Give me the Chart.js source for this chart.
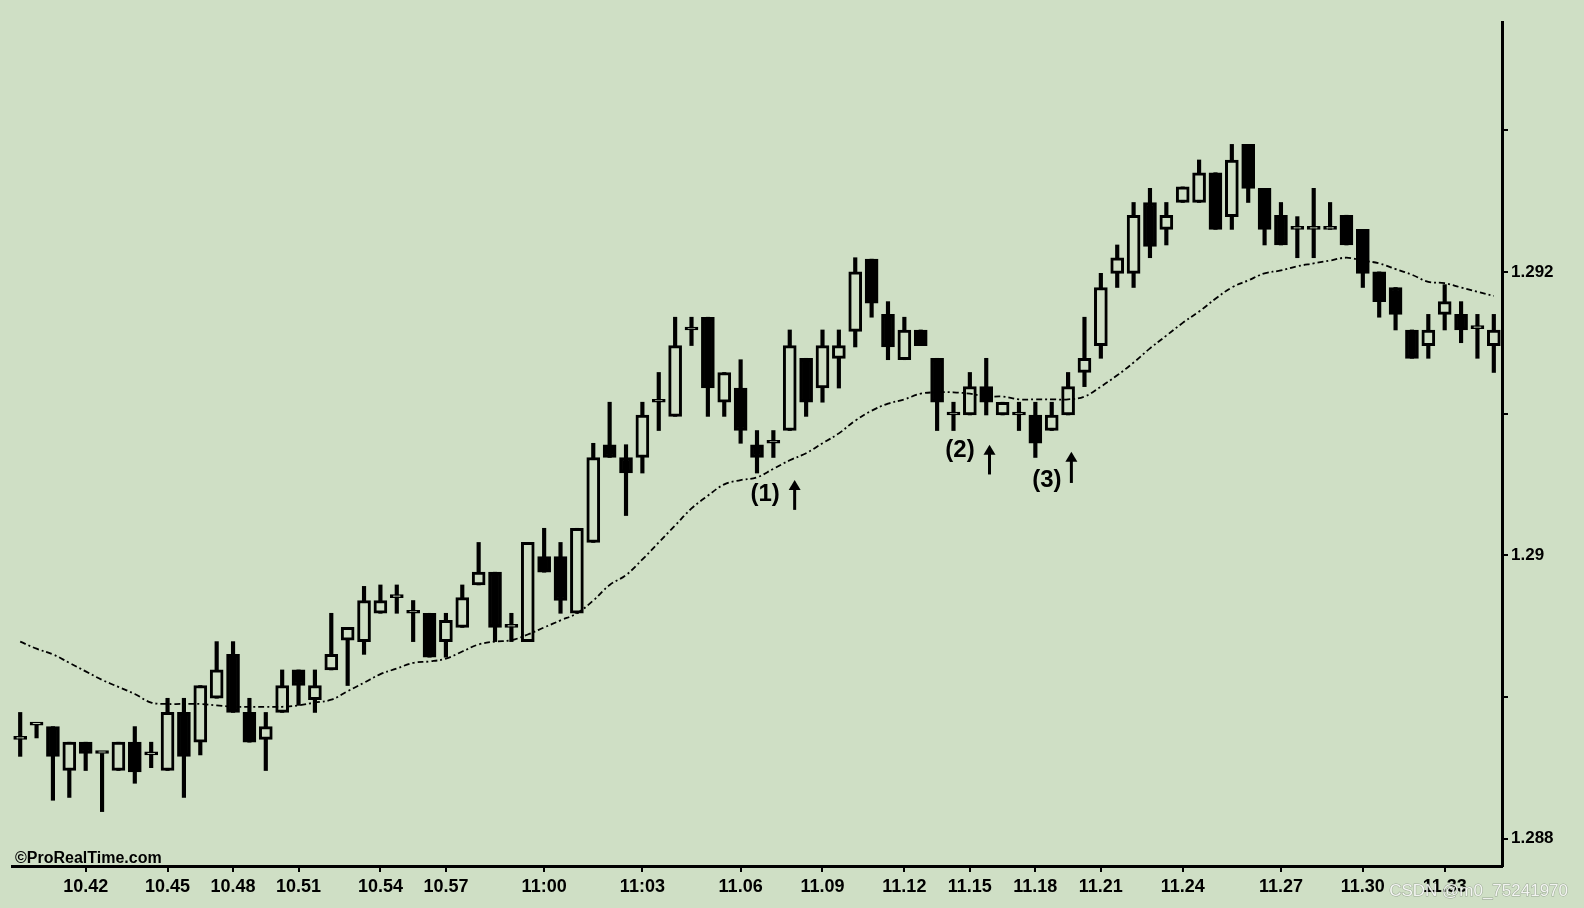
<!DOCTYPE html>
<html>
<head>
<meta charset="utf-8">
<title>Velas 10.42 - 11.33</title>
<script src="https://cdn.jsdelivr.net/npm/chart.js@4.4.1/dist/chart.umd.min.js"></script>
<style>
	html, body { margin: 0; padding: 0; background: #cfdfc5; }
	#contenedor { width: 1584px; height: 908px; position: relative; }
</style>
</head>
<body>
<div id="contenedor"><canvas id="grafico"></canvas></div>
<script>
/* Datos de las velas */
const aperturas = [
	1.28870, 1.28880, 1.28879, 1.28848, 1.28868, 1.28860, 1.28848, 1.28868, 1.28859, 1.28848,
	1.28889, 1.28868, 1.28899, 1.28930, 1.28889, 1.28870, 1.28889, 1.28919, 1.28898, 1.28919,
	1.28940, 1.28939, 1.28959, 1.28970, 1.28959, 1.28959, 1.28939, 1.28949, 1.28979, 1.28988,
	1.28949, 1.28939, 1.28999, 1.28999, 1.28959, 1.29009, 1.29078, 1.29069, 1.29069, 1.29108,
	1.29098, 1.29159, 1.29168, 1.29108, 1.29118, 1.29078, 1.29079, 1.29088, 1.29139, 1.29118,
	1.29139, 1.29158, 1.29209, 1.29170, 1.29138, 1.29159, 1.29139, 1.29099, 1.29099, 1.29119,
	1.29099, 1.29099, 1.29099, 1.29088, 1.29099, 1.29129, 1.29148, 1.29199, 1.29199, 1.29249,
	1.29230, 1.29249, 1.29249, 1.29270, 1.29239, 1.29290, 1.29259, 1.29240, 1.29230, 1.29230,
	1.29230, 1.29240, 1.29230, 1.29200, 1.29189, 1.29159, 1.29148, 1.29170, 1.29170, 1.29160,
	1.29148
];
const maximos = [
	1.28889, 1.28880, 1.28879, 1.28868, 1.28868, 1.28860, 1.28868, 1.28879, 1.28868, 1.28899,
	1.28899, 1.28908, 1.28939, 1.28939, 1.28899, 1.28889, 1.28919, 1.28919, 1.28919, 1.28959,
	1.28949, 1.28978, 1.28979, 1.28979, 1.28968, 1.28959, 1.28959, 1.28979, 1.29009, 1.28988,
	1.28959, 1.29009, 1.29019, 1.29009, 1.29019, 1.29079, 1.29108, 1.29078, 1.29108, 1.29129,
	1.29168, 1.29168, 1.29168, 1.29129, 1.29138, 1.29088, 1.29088, 1.29159, 1.29139, 1.29159,
	1.29159, 1.29210, 1.29209, 1.29179, 1.29168, 1.29159, 1.29139, 1.29108, 1.29129, 1.29139,
	1.29108, 1.29108, 1.29108, 1.29108, 1.29129, 1.29168, 1.29199, 1.29219, 1.29249, 1.29259,
	1.29249, 1.29260, 1.29279, 1.29270, 1.29290, 1.29290, 1.29259, 1.29249, 1.29239, 1.29259,
	1.29249, 1.29240, 1.29230, 1.29200, 1.29189, 1.29159, 1.29170, 1.29191, 1.29179, 1.29170,
	1.29170
];
const minimos = [
	1.28858, 1.28871, 1.28827, 1.28829, 1.28848, 1.28819, 1.28848, 1.28839, 1.28850, 1.28848,
	1.28829, 1.28859, 1.28899, 1.28889, 1.28868, 1.28848, 1.28889, 1.28894, 1.28889, 1.28919,
	1.28908, 1.28930, 1.28959, 1.28959, 1.28939, 1.28928, 1.28928, 1.28949, 1.28979, 1.28939,
	1.28939, 1.28939, 1.28988, 1.28959, 1.28959, 1.29009, 1.29069, 1.29028, 1.29058, 1.29088,
	1.29098, 1.29148, 1.29098, 1.29098, 1.29079, 1.29058, 1.29069, 1.29088, 1.29098, 1.29108,
	1.29118, 1.29147, 1.29168, 1.29138, 1.29138, 1.29148, 1.29088, 1.29088, 1.29099, 1.29099,
	1.29099, 1.29088, 1.29069, 1.29088, 1.29099, 1.29119, 1.29139, 1.29189, 1.29189, 1.29210,
	1.29219, 1.29249, 1.29249, 1.29230, 1.29230, 1.29249, 1.29219, 1.29219, 1.29210, 1.29210,
	1.29230, 1.29219, 1.29189, 1.29168, 1.29159, 1.29139, 1.29139, 1.29159, 1.29150, 1.29139,
	1.29129
];
const cierres = [
	1.28870, 1.28880, 1.28858, 1.28868, 1.28860, 1.28860, 1.28868, 1.28847, 1.28859, 1.28889,
	1.28858, 1.28908, 1.28919, 1.28889, 1.28868, 1.28879, 1.28908, 1.28908, 1.28908, 1.28930,
	1.28949, 1.28968, 1.28968, 1.28970, 1.28959, 1.28928, 1.28954, 1.28970, 1.28988, 1.28949,
	1.28949, 1.29009, 1.28988, 1.28968, 1.29019, 1.29069, 1.29069, 1.29058, 1.29099, 1.29108,
	1.29148, 1.29159, 1.29118, 1.29129, 1.29088, 1.29069, 1.29079, 1.29148, 1.29108, 1.29148,
	1.29148, 1.29200, 1.29178, 1.29147, 1.29159, 1.29148, 1.29108, 1.29099, 1.29119, 1.29108,
	1.29108, 1.29099, 1.29079, 1.29099, 1.29119, 1.29139, 1.29189, 1.29210, 1.29240, 1.29218,
	1.29240, 1.29260, 1.29270, 1.29230, 1.29279, 1.29259, 1.29230, 1.29219, 1.29230, 1.29230,
	1.29230, 1.29219, 1.29199, 1.29179, 1.29170, 1.29139, 1.29159, 1.29179, 1.29159, 1.29160,
	1.29159
];
// media movil (linea punteada)
const media = [
	1.28939, 1.28934, 1.28930, 1.28924, 1.28918, 1.28912, 1.28907, 1.28902, 1.28896, 1.28895,
	1.28895, 1.28895, 1.28894, 1.28893, 1.28893, 1.28893, 1.28893, 1.28894, 1.28896, 1.28898,
	1.28904, 1.28910, 1.28916, 1.28920, 1.28924, 1.28925, 1.28927, 1.28932, 1.28937, 1.28939,
	1.28940, 1.28944, 1.28949, 1.28954, 1.28959, 1.28968, 1.28979, 1.28986, 1.28997, 1.29009,
	1.29021, 1.29033, 1.29042, 1.29050, 1.29053, 1.29055, 1.29061, 1.29067, 1.29072, 1.29079,
	1.29086, 1.29095, 1.29102, 1.29107, 1.29110, 1.29114, 1.29115, 1.29115, 1.29114, 1.29112,
	1.29112, 1.29110, 1.29110, 1.29110, 1.29110, 1.29112, 1.29119, 1.29127, 1.29136, 1.29146,
	1.29155, 1.29164, 1.29172, 1.29181, 1.29189, 1.29194, 1.29199, 1.29201, 1.29204, 1.29206,
	1.29208, 1.29210, 1.29208, 1.29206, 1.29202, 1.29198, 1.29193, 1.29192, 1.29189, 1.29186,
	1.29183
];

/* Eje de tiempo: vela donde cae cada hora */
const marcasVela = [4, 9, 13, 17, 22, 26, 32, 38, 44, 49, 54, 58, 62, 66, 71, 77, 82, 87];
const marcasHora = ["10.42", "10.45", "10.48", "10.51", "10.54", "10.57", "11:00", "11:03", "11.06",
	"11.09", "11.12", "11.15", "11.18", "11.21", "11.24", "11.27", "11.30", "11.33"];

/* Eje de precios */
const marcasPrecio = [1.288, 1.289, 1.29, 1.291, 1.292, 1.293];
const textoPrecio = ["1.288", "", "1.29", "", "1.292", ""];

/* Notas (1) (2) (3) con su flecha */
const notasTexto = ["(1)", "(2)", "(3)"];
const notasVela = [45.5, 57.4, 62.7];
const notasPrecio = [1.29043, 1.29074, 1.29053];
const flechasVela = [47.3, 59.2, 64.2];
const flechasArriba = [1.29053, 1.29078, 1.29073];
const flechasAbajo = [1.29032, 1.29057, 1.29051];

const fondo = "#cfdfc5";
const fuente = "'Liberation Sans', Arial, sans-serif";

const etiquetas = aperturas.map((a, i) => {
	const k = marcasVela.indexOf(i);
	return k >= 0 ? marcasHora[k] : "";
});
const cuerpos = aperturas.map((a, i) => [a, cierres[i]]);
const mechas = minimos.map((m, i) => [m, maximos[i]]);

const extras = {
	id: "extras",
	beforeDraw(chart) {
		const c = chart.ctx;
		c.save();
		c.fillStyle = fondo;
		c.fillRect(0, 0, chart.width, chart.height);
		c.restore();
	},
	afterDraw(chart) {
		const c = chart.ctx;
		const x = chart.scales.x;
		const y = chart.scales.y;
		const area = chart.chartArea;
		c.save();
		c.fillStyle = "#000";
		c.strokeStyle = "#000";

		// notas
		c.font = "bold 24px " + fuente;
		c.textAlign = "center";
		c.textBaseline = "middle";
		notasTexto.forEach((t, i) => {
			c.fillText(t, x.getPixelForValue(notasVela[i]), y.getPixelForValue(notasPrecio[i]));
		});

		// flechas
		flechasVela.forEach((v, i) => {
			const px = x.getPixelForValue(v);
			const arriba = y.getPixelForValue(flechasArriba[i]);
			const abajo = y.getPixelForValue(flechasAbajo[i]);
			c.lineWidth = 3;
			c.beginPath();
			c.moveTo(px, abajo);
			c.lineTo(px, arriba + 6);
			c.stroke();
			c.beginPath();
			c.moveTo(px, arriba);
			c.lineTo(px - 6, arriba + 10);
			c.lineTo(px + 6, arriba + 10);
			c.closePath();
			c.fill();
		});

		// marca ProRealTime
		c.font = "bold 16px " + fuente;
		c.textAlign = "left";
		c.textBaseline = "alphabetic";
		c.fillText("\u00a9ProRealTime.com", area.left + 3, area.bottom - 3);

		// marca de agua
		c.font = "17px " + fuente;
		c.textAlign = "right";
		c.lineWidth = 1;
		c.strokeStyle = "rgba(120,130,115,0.6)";
		c.strokeText("CSDN @m0_75241970", 1568, 896);
		c.fillStyle = "rgba(255,255,255,0.85)";
		c.fillText("CSDN @m0_75241970", 1568, 896);
		c.restore();
	}
};

const ctx = document.getElementById("grafico").getContext("2d");
new Chart(ctx, {
	type: "bar",
	data: {
		labels: etiquetas,
		datasets: [
			{
				type: "line",
				label: "Media",
				data: media,
				borderColor: "#000",
				borderWidth: 1.8,
				borderDash: [6, 3, 2, 3],
				pointRadius: 0,
				tension: 0.4,
				fill: false,
				order: 0,
			},
			{
				label: "Cuerpos",
				data: cuerpos,
				grouped: false,
				barThickness: 13,
				minBarLength: 3,
				backgroundColor: cierres.map((c, i) => (c < aperturas[i] ? "#000" : fondo)),
				borderColor: "#000",
				borderWidth: 3,
				borderSkipped: false,
				order: 1,
			},
			{
				label: "Mechas",
				data: mechas,
				grouped: false,
				barThickness: 3.5,
				backgroundColor: "#000",
				borderWidth: 0,
				order: 2,
			},
		],
	},
	options: {
		responsive: true,
		maintainAspectRatio: false,
		animation: false,
		layout: { padding: { left: 12, top: 22, right: 0, bottom: 0 } },
		plugins: {
			legend: { display: false },
			tooltip: { enabled: false },
		},
		scales: {
			x: {
				offset: true,
				afterFit: (eje) => { eje.height = 42; },
				border: { display: true, color: "#000", width: 3 },
				grid: {
					offset: false,
					drawOnChartArea: false,
					drawTicks: true,
					tickLength: 6,
					lineWidth: 2,
					color: (c) => (marcasVela.includes(c.index) ? "#000" : "rgba(0,0,0,0)"),
				},
				ticks: {
					autoSkip: false,
					maxRotation: 0,
					minRotation: 0,
					padding: 4,
					color: "#000",
					font: { family: fuente, size: 18, weight: "bold" },
				},
			},
			y: {
				position: "right",
				min: 1.287806,
				max: 1.293764,
				afterFit: (eje) => { eje.width = 82; },
				afterBuildTicks: (eje) => { eje.ticks = marcasPrecio.map((v) => ({ value: v })); },
				border: { display: true, color: "#000", width: 3 },
				grid: {
					drawOnChartArea: false,
					drawTicks: true,
					tickLength: 6,
					lineWidth: 2,
					color: "#000",
				},
				ticks: {
					padding: 3,
					color: "#000",
					font: { family: fuente, size: 17, weight: "bold" },
					callback: (v, i) => textoPrecio[i],
				},
			},
		},
	},
	plugins: [extras],
});
</script>
</body>
</html>
